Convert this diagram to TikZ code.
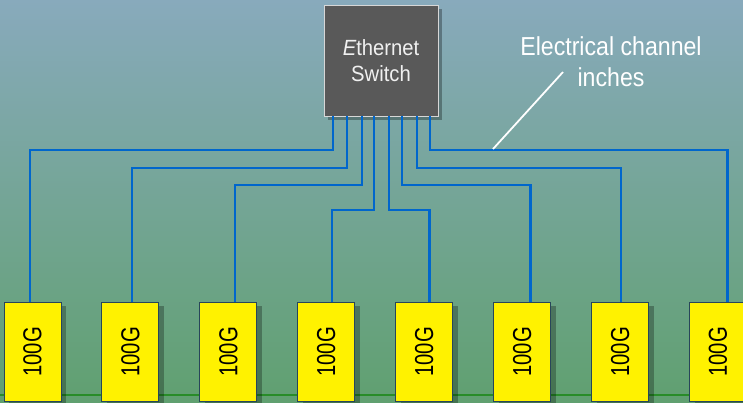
\documentclass[tikz,border=0pt]{standalone}
\usepackage{fontspec}
\setmainfont{Liberation Sans}
\newfontfamily\boxfont[FakeStretch=0.78]{Liberation Sans}
\newfontfamily\swfont[FakeStretch=0.92]{Liberation Sans}
\newfontfamily\lblfont[FakeStretch=0.89]{Liberation Sans}
\usetikzlibrary{shadows}
\definecolor{bgtop}{RGB}{136,170,188}
\definecolor{bgmid}{RGB}{122,174,152}
\definecolor{bgbot}{RGB}{96,160,112}
\definecolor{wireblue}{RGB}{0,102,204}
\definecolor{swgrey}{RGB}{89,89,89}
\definecolor{swedge}{RGB}{215,215,215}
\definecolor{boxedge}{RGB}{40,70,90}
\definecolor{gline}{RGB}{40,140,40}
\begin{document}
\begin{tikzpicture}[x=1pt,y=-1pt,
  unitbox/.style={draw=boxedge, line width=0.9pt, fill=yellow,
    minimum width=57pt, minimum height=98.5pt, inner sep=0pt,
    drop shadow={shadow xshift=5pt, shadow yshift=-3pt, opacity=0.28, fill=black}},
  unitlabel/.style={rotate=90, inner sep=0pt, font=\boxfont\fontsize{26}{30}\selectfont, text=black},
  switchbox/.style={draw=swedge, line width=0.8pt, fill=swgrey,
    minimum width=114pt, minimum height=111pt, inner sep=0pt,
    text=white!94!black, align=center, font=\swfont\fontsize{22}{26}\selectfont,
    drop shadow={shadow xshift=4pt, shadow yshift=-4pt, opacity=0.3, fill=black}},
  wire/.style={draw=wireblue, line width=2.4pt},
  pointer/.style={draw=white, line width=1.8pt},
  note/.style={text=white, align=center, inner sep=0pt, font=\lblfont\fontsize{26}{31}\selectfont}
]
\useasboundingbox (0,0) rectangle (743,402);
\clip (0,0) rectangle (743,402);
\shade[top color=bgtop, middle color=bgmid, bottom color=bgbot] (0,0) rectangle (743,402);

% green baseline
\coordinate (gl) at (0,395);
\coordinate (gr) at (743,395);
\draw[gline, line width=1.3pt] (gl) -- (gr);

% switch
\node[switchbox] (sw) at (381,60.5) {{\itshape E}thernet\\Switch};

% wire exits at switch bottom
\foreach \i/\x in {1/333,2/347,3/362,4/374,5/389,6/402,7/417,8/430}
  \coordinate (s\i) at (\x,116);

% wire drop points at box tops
\foreach \i/\x in {1/30,2/131.7,3/235,4/331.7,5/429.3,6/530.3,7/620.7,8/727.3}
  \coordinate (t\i) at (\x,302.5);

% wires
\foreach \i/\lev in {1/150,2/168,3/185,4/210,5/210,6/185,7/168,8/150}
  \draw[wire, line join=miter] (s\i) -- (s\i |- 0,\lev) -| (t\i);

% 100G boxes
\foreach \i in {1,...,8}{
  \node[unitbox] (b\i) at ({32.5+97.93*(\i-1)},351.75) {};
  \node[unitlabel] (l\i) at (b\i) {100G};
}

% annotation
\node[note] (lbl) at (611,61.5) {Electrical channel\\inches};
\coordinate (p1) at (493,149);
\coordinate (p2) at (563,72);
\draw[pointer] (p1) -- (p2);
\end{tikzpicture}
\end{document}
